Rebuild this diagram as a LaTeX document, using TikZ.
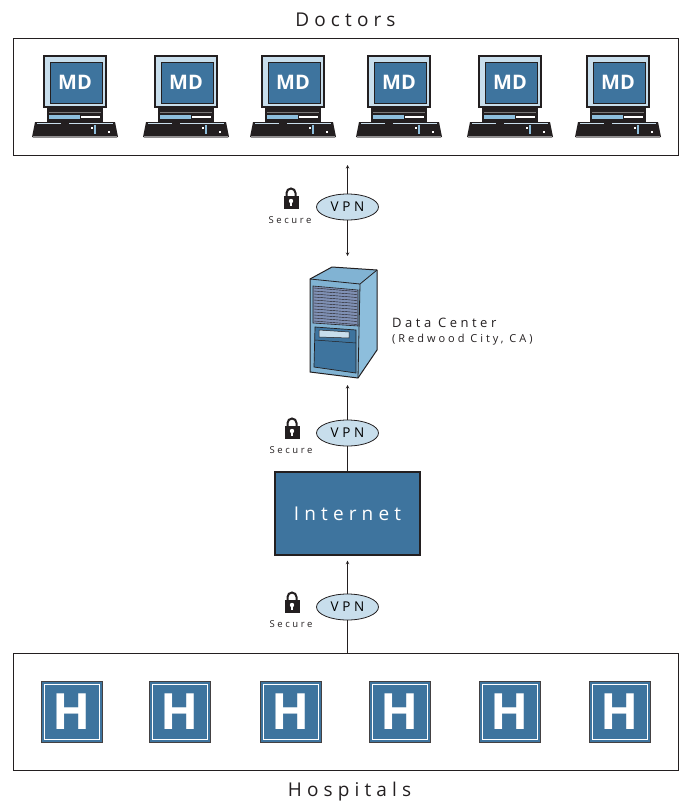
\documentclass[tikz,border=0pt]{standalone}
\usepackage{fontspec}
\setmainfont[LetterSpace=27]{Open Sans}
\newfontfamily\plainbold{Open Sans}
\usetikzlibrary{arrows,positioning,shapes.geometric}
\definecolor{bluedark}{HTML}{3E749E}
\definecolor{bluemid}{HTML}{8DBEDC}
\definecolor{bluepale}{HTML}{C8DEEC}
\definecolor{bluegrey}{HTML}{7F90B4}
\definecolor{inkline}{HTML}{231F20}
\tikzset{%
	groupbox/.style = {draw=inkline, line width=0.6pt, rectangle, minimum width=665, minimum height=117},
	vpn/.style      = {draw=inkline, ellipse, fill=bluepale, line width=0.8pt, minimum width=62, minimum height=26, inner sep=0pt, font=\fontsize{13.5}{13.5}\selectfont},
	cloudbox/.style = {draw=inkline, rectangle, fill=bluedark, line width=1.2pt, minimum width=145, minimum height=83, text=white, font=\fontsize{19}{19}\selectfont},
	caption/.style  = {font=\fontsize{19}{19}\selectfont, text=inkline},
	small/.style    = {font=\fontsize{9.5}{9.5}\selectfont, text=inkline},
	arrow/.style    = {line width=0.6pt, draw=inkline, -stealth},
	mdpc/.pic = {
		\fill[inkline] (-32,-27) rectangle (32,26);
		\fill[bluepale] (-30,-25) rectangle (30,24);
		\draw[inkline,fill=bluedark,line width=0.8pt] (-25,-20) rectangle (27,21);
		\node[text=white] at (0,0) {\plainbold\bfseries\fontsize{20}{20}\selectfont MD};
		\fill[inkline] (-28,26) rectangle (28,40);
		\fill[inkline!60] (-26,30) rectangle (26,31);
		\fill[bluemid] (-26,33) rectangle (5,37);
		\fill[white] (6,34) rectangle (25,36);
		\fill[inkline] (-40,40) -- (40,40) -- (43,55) -- (-43,55) -- cycle;
		\fill[bluepale] (-38,41) rectangle (-14,42);
		\fill[bluepale] (-6,41) rectangle (38,42);
		\fill[inkline!50] (-42,54) rectangle (42,55.5);
		\fill[bluemid] (19,43) rectangle (21,52);
		\fill[white] (16,45) rectangle (18,47);
		\fill[white] (33,49) rectangle (35,51);
	},
	hosp/.pic = {
		\draw[inkline!85,fill=bluedark,line width=0.8pt] (-30.5,-30.5) rectangle (30.5,30.5);
		\draw[white,line width=0.6pt] (-27.5,-27.5) rectangle (27.5,27.5);
		\node[text=white,inner sep=0pt] at (0,0) {\plainbold\bfseries\fontsize{50}{50}\selectfont H};
	},
	lockpic/.pic = {
		\draw[inkline,line width=2pt] (-4.5,-1) -- (-4.5,-5) arc (180:360:4.5) -- (4.5,-1);
		\fill[inkline] (-7.5,-2) rectangle (7.5,11);
		\fill[white] (0,3) circle (2.2);
		\fill[white] (-1.1,3) rectangle (1.1,8);
	},
}
\begin{document}
\begin{tikzpicture}[x=1pt,y=-1pt]
	\useasboundingbox (0,0) rectangle (680,803);
	% top row
	\node[groupbox] (doctors) at (345.5,96.5) {};
	\node[caption] (doctorslabel) at (345.5,20) {Doctors};
	\foreach \x in {75,186,293,399,510,618}
		\pic at (\x,82) {mdpc};
	% bottom row
	\node[groupbox] (hospitals) at (345.5,711.5) {};
	\node[caption] (hospitalslabel) at (349.5,792) {Hospitals};
	\foreach \x in {71.5,180,291,400,510,620}
		\pic at (\x,711.5) {hosp};
	% server
	\coordinate (server) at (347.5,385);
	\fill[bluemid!85!bluedark] (310,279) -- (332,267) -- (377,270) -- (377,350) -- (358,378) -- (310,372) -- cycle;
	\fill[bluemid] (360,284) -- (377,270) -- (377,350) -- (358,378) -- cycle;
	\draw[inkline,line width=1pt,line join=round] (310,279) -- (332,267) -- (377,270) -- (377,350) -- (358,378) -- (310,372) -- cycle;
	\draw[inkline,line width=0.8pt] (310,279) -- (360,284) -- (377,270) (360,284) -- (358,378);
	\draw[inkline,line width=0.6pt,fill=bluegrey] (313,286) -- (358,290) -- (358,326) -- (313,323) -- cycle;
	\foreach \y in {0,3,...,33}
		\draw[inkline,line width=0.4pt] (314,288+\y) -- (357,291.5+\y);
	\draw[inkline,line width=0.7pt,fill=bluedark] (315,327) -- (356,330) -- (356,373) -- (314,367) -- cycle;
	\draw[inkline,line width=0.5pt] (315,340) -- (356,343);
	\draw[inkline,line width=0.5pt,fill=bluepale] (319,330) -- (349,332) -- (349,338) -- (319,337) -- cycle;
	\node[anchor=west,small,font=\fontsize{13}{13}\selectfont,inner sep=0pt] (dclabel) at (392,323) {Data Center};
	\node[anchor=west,small,font=\fontsize{11}{11}\selectfont,inner sep=0pt] (dcplace) at (392,340) {(Redwood City, CA)};
	% middle
	\node[cloudbox] (internet) at (347.5,513.5) {Internet};
	\node[vpn] (vpna) at (347.5,207) {VPN};
	\node[vpn] (vpnb) at (347.5,433) {VPN};
	\node[vpn] (vpnc) at (347.5,607) {VPN};
	\coordinate (vpnaup) at (347.5,165);
	\coordinate (vpnadown) at (347.5,256);
	\draw[arrow] (vpna) -- (vpnaup);
	\draw[arrow] (vpna) -- (vpnadown);
	\draw[arrow] (vpnb) -- (server);
	\draw[line width=0.6pt,draw=inkline] (internet.north) -- (vpnb);
	\draw[arrow,shorten >=5pt] (vpnc) -- (internet.south);
	\draw[line width=0.6pt,draw=inkline] (hospitals.north -| vpnc) -- (vpnc);
	% locks
	\pic at (291,198) {lockpic};
	\node[small] (securea) at (290,220) {Secure};
	\pic at (292,428) {lockpic};
	\node[small] (secureb) at (291,450) {Secure};
	\pic at (292,602) {lockpic};
	\node[small] (securec) at (291,624) {Secure};
\end{tikzpicture}
\end{document}
